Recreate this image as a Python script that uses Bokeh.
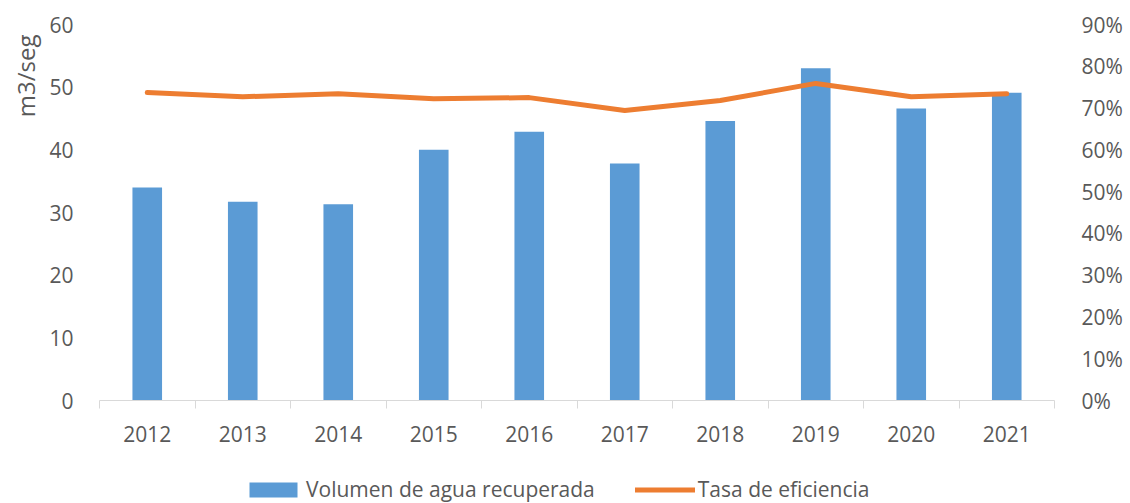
import math
from bokeh.plotting import figure
from bokeh.layouts import column
from bokeh.models import (Range1d, LinearAxis, FixedTicker, NumeralTickFormatter,
                          Legend, LegendItem, Title, ColumnDataSource)
from bokeh.embed import file_html
from bokeh.resources import INLINE

years = [2012, 2013, 2014, 2015, 2016, 2017, 2018, 2019, 2020, 2021]
volumen = [34.0, 31.7, 31.3, 40.0, 42.9, 37.8, 44.6, 53.0, 46.6, 49.1]
tasa = [0.737, 0.727, 0.734, 0.722, 0.725, 0.694, 0.718, 0.759, 0.727, 0.734]
left_ticks = [0, 10, 20, 30, 40, 50, 60]
right_ticks = [0.0, 0.1, 0.2, 0.3, 0.4, 0.5, 0.6, 0.7, 0.8, 0.9]
y_title = "m3/seg"
bar_name = "Volumen de agua recuperada"
line_name = "Tasa de eficiencia"

FONT = "Open Sans"
TXT = "#595959"
BLUE = "#5B9BD5"
ORANGE = "#ED7D31"
AX = "#D9D9D9"

src = ColumnDataSource(dict(year=years, vol=volumen, tasa=tasa))

p = figure(output_backend="svg", toolbar_location=None,
           x_range=Range1d(years[0] - 0.5, years[-1] + 0.5),
           y_range=Range1d(0, 60),
           frame_width=955, frame_height=376,
           min_border_left=99, min_border_right=68, min_border_top=24, min_border_bottom=62,
           y_axis_location=None, x_axis_location=None)
p.extra_y_ranges = {"pct": Range1d(0, 0.9)}
p.outline_line_color = None
p.xgrid.visible = False
p.ygrid.visible = False
p.background_fill_color = "white"
p.border_fill_color = "white"

# left axis
yl = LinearAxis(ticker=FixedTicker(ticks=left_ticks))
yl.axis_line_color = None
yl.major_tick_line_color = None
yl.minor_tick_line_color = None
yl.major_tick_out = 0
yl.major_label_standoff = 26
yl.major_label_text_font = FONT
yl.major_label_text_font_size = "21px"
yl.major_label_text_color = TXT
p.add_layout(yl, "left")

# right axis
yr = LinearAxis(y_range_name="pct", ticker=FixedTicker(ticks=right_ticks),
                formatter=NumeralTickFormatter(format="0%"))
yr.axis_line_color = None
yr.major_tick_line_color = None
yr.minor_tick_line_color = None
yr.major_tick_out = 0
yr.major_label_standoff = 27
yr.major_label_text_font = FONT
yr.major_label_text_font_size = "21px"
yr.major_label_text_color = TXT
p.add_layout(yr, "right")

# x axis
bounds = [y - 0.5 for y in years] + [years[-1] + 0.5]
xa = LinearAxis(ticker=FixedTicker(ticks=years, minor_ticks=bounds))
xa.axis_line_color = AX
xa.axis_line_width = 1
xa.major_tick_line_color = None
xa.major_tick_out = 0
xa.major_tick_in = 0
xa.minor_tick_line_color = AX
xa.minor_tick_out = 8
xa.minor_tick_in = 0
xa.major_label_standoff = 17
xa.major_label_text_font = FONT
xa.major_label_text_font_size = "21px"
xa.major_label_text_color = TXT
p.add_layout(xa, "below")

p.vbar(x="year", top="vol", width=0.31, source=src, fill_color=BLUE, line_color=None)
p.line(x="year", y="tasa", source=src, y_range_name="pct",
       line_color=ORANGE, line_width=5, line_cap="round", line_join="round")

ttl = Title(text=y_title, align="right", text_font=FONT, text_font_size="24px",
            text_color=TXT, text_font_style="normal", offset=10, standoff=10)
p.add_layout(ttl, "left")

# legend strip below the chart (its glyphs use the same data, outside its view)
lg = figure(output_backend="svg", toolbar_location=None,
            frame_width=1122, frame_height=41,
            min_border_left=0, min_border_right=0, min_border_top=0, min_border_bottom=0,
            x_range=Range1d(0, 1), y_range=Range1d(0, 1),
            x_axis_location=None, y_axis_location=None)
lg.outline_line_color = None
lg.xgrid.visible = False
lg.ygrid.visible = False
lb = lg.vbar(x="year", top="vol", width=0.31, source=src, fill_color=BLUE, line_color=None)
ll = lg.line(x="year", y="tasa", source=src, line_color=ORANGE, line_width=5, line_cap="round")

legend = Legend(items=[LegendItem(label=bar_name, renderers=[lb]),
                       LegendItem(label=line_name, renderers=[ll])],
                orientation="horizontal", location=(243, 0))
legend.padding = 0
legend.margin = 0
legend.spacing = 40
legend.border_line_color = None
legend.background_fill_alpha = 0
legend.glyph_width = 60
legend.glyph_height = 19
legend.label_standoff = 3
legend.label_text_font = FONT
legend.label_text_font_size = "21px"
legend.label_text_color = TXT
legend.label_height = 20
lg.add_layout(legend, "center")

layout = column(p, lg, spacing=0)
open("out.html", "w").write(file_html(layout, INLINE))
